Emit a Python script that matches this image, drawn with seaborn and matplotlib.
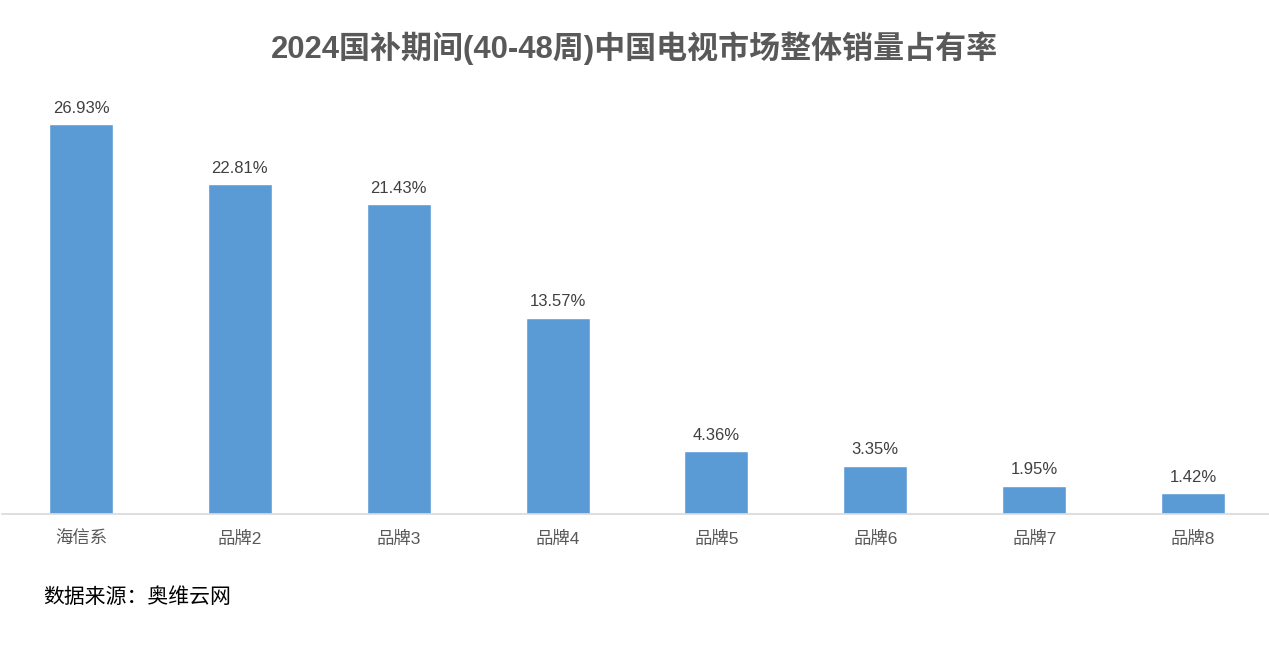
import matplotlib
matplotlib.use("Agg")
import matplotlib.pyplot as plt
import seaborn as sns
import pandas as pd

categories = ["海信系", "品牌2", "品牌3", "品牌4", "品牌5", "品牌6", "品牌7", "品牌8"]
values = [26.93, 22.81, 21.43, 13.57, 4.36, 3.35, 1.95, 1.42]
title = "2024国补期间(40-48周)中国电视市场整体销量占有率"
source = "数据来源：奥维云网"

sns.set_theme(style="white")
plt.rcParams['font.family'] = ['Liberation Sans', 'Noto Sans CJK SC', 'DejaVu Sans']

df = pd.DataFrame({"cat": categories, "val": values})

fig = plt.figure(figsize=(12.69, 6.45), dpi=100)
ax = fig.add_axes([0.0012, 0.2031, 1.0016, 0.673])
sns.barplot(data=df, x="cat", y="val", color="#5B9BD5", saturation=1, width=0.403, ax=ax)
ax.set_xlim(-0.5, len(categories) - 0.5)
ax.set_ylim(0, 30)
ax.set_xlabel("")
ax.set_ylabel("")
ax.set_yticks([])
for s in ["top", "right", "left"]:
    ax.spines[s].set_visible(False)
ax.spines["bottom"].set_color("#D9D9D9")
ax.spines["bottom"].set_linewidth(1.2)
ax.tick_params(axis="x", length=0, pad=12, labelsize=12.5, labelcolor="#595959")

for c in ax.containers:
    ax.bar_label(c, labels=[f"{v:.2f}%" for v in values], padding=6, fontsize=12, color="#404040")

fig.text(0.5, 0.926, title, ha="center", va="center", fontsize=22.3, fontweight="bold", color="#595959")
fig.text(0.034, 0.074, source, ha="left", va="center", fontsize=15, color="#000000",
         family=['Noto Sans CJK SC', 'DejaVu Sans'])

fig.savefig("out.png", dpi=100)
